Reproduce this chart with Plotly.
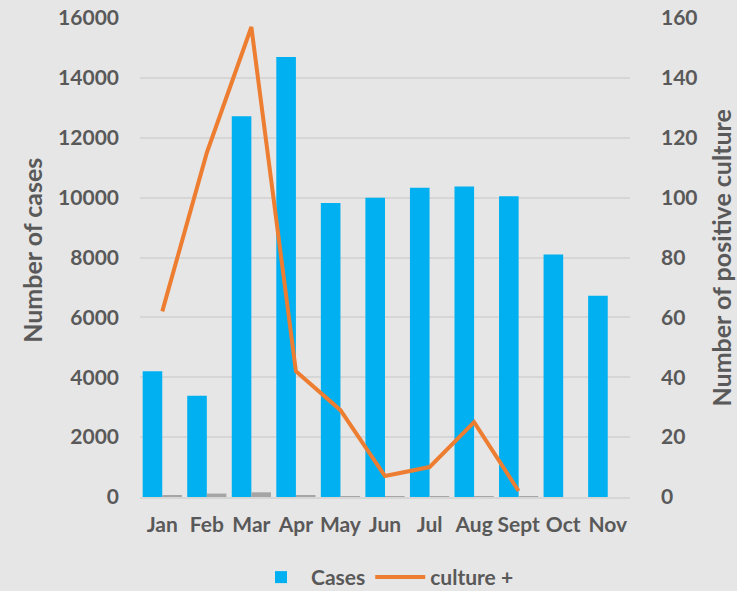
import plotly.graph_objects as go

months = ["Jan", "Feb", "Mar", "Apr", "May", "Jun", "Jul", "Aug", "Sept", "Oct", "Nov"]
cases = [4200, 3380, 12720, 14700, 9820, 10000, 10330, 10370, 10050, 8100, 6720]
culture_pos = [62, 115, 157, 42, 29, 7, 10, 25, 2, None, None]

TXT = "#595959"
FONT = "Lato"
BG = "#e7e6e6"
GRID = "#d6d6d6"

fig = go.Figure()
fig.add_trace(go.Bar(x=months, y=cases, name="Cases", marker_color="#00b0f0",
                     marker_line_width=0, offsetgroup="a", yaxis="y"))
fig.add_trace(go.Bar(x=months, y=culture_pos, name="culture + (bar)", marker_color="#a5a5a5",
                     marker_line_width=0, offsetgroup="b", yaxis="y", showlegend=False))
fig.add_trace(go.Scatter(x=months, y=culture_pos, name="culture +", mode="lines",
                         line=dict(color="#ed7d31", width=4), yaxis="y2",
                         connectgaps=False))

tickfont = dict(size=21, family=FONT, color=TXT, weight="bold")
titlefont = dict(size=25, family=FONT, color=TXT, weight="bold")

fig.update_layout(
    width=737, height=591,
    margin=dict(l=140, r=107, t=18, b=94, autoexpand=False),
    paper_bgcolor=BG, plot_bgcolor=BG,
    font=dict(family=FONT, color=TXT, size=16),
    barmode="group", bargap=0.12, bargroupgap=0,
    xaxis=dict(type="category", tickfont=dict(size=21, family=FONT, color=TXT, weight="bold"),
               tickangle=0,
               showline=True, linecolor=GRID, linewidth=1.5, ticks="",
               showgrid=False, automargin=False, ticklabelstandoff=8),
    yaxis=dict(range=[0, 16000], dtick=2000, tickformat="d", showgrid=True, gridcolor=GRID,
               gridwidth=1.5, zeroline=False, tickfont=tickfont, automargin=False,
               ticklabelstandoff=20),
    yaxis2=dict(range=[0, 160], dtick=20, tickformat="d", overlaying="y", side="right",
                showgrid=False, zeroline=False, tickfont=tickfont, automargin=False,
                ticklabelstandoff=30),
    legend=dict(orientation="h", x=0.5, xanchor="center", y=-0.168, yanchor="middle",
                font=dict(size=21, family=FONT, color=TXT, weight="bold"),
                bgcolor="rgba(0,0,0,0)", itemwidth=50, tracegroupgap=0),
    annotations=[
        dict(text="Number of cases", xref="paper", yref="paper", x=-0.2194, y=0.515,
             textangle=-90, showarrow=False, font=titlefont, xanchor="center", yanchor="middle"),
        dict(text="Number of positive culture", xref="paper", yref="paper", x=1.1857, y=0.5,
             textangle=-90, showarrow=False, font=titlefont, xanchor="center", yanchor="middle"),
    ],
    showlegend=True,
)

fig.write_html("out.html", config={"displayModeBar": False},
               post_script="document.body.style.margin='0';document.body.style.overflow='hidden';")
